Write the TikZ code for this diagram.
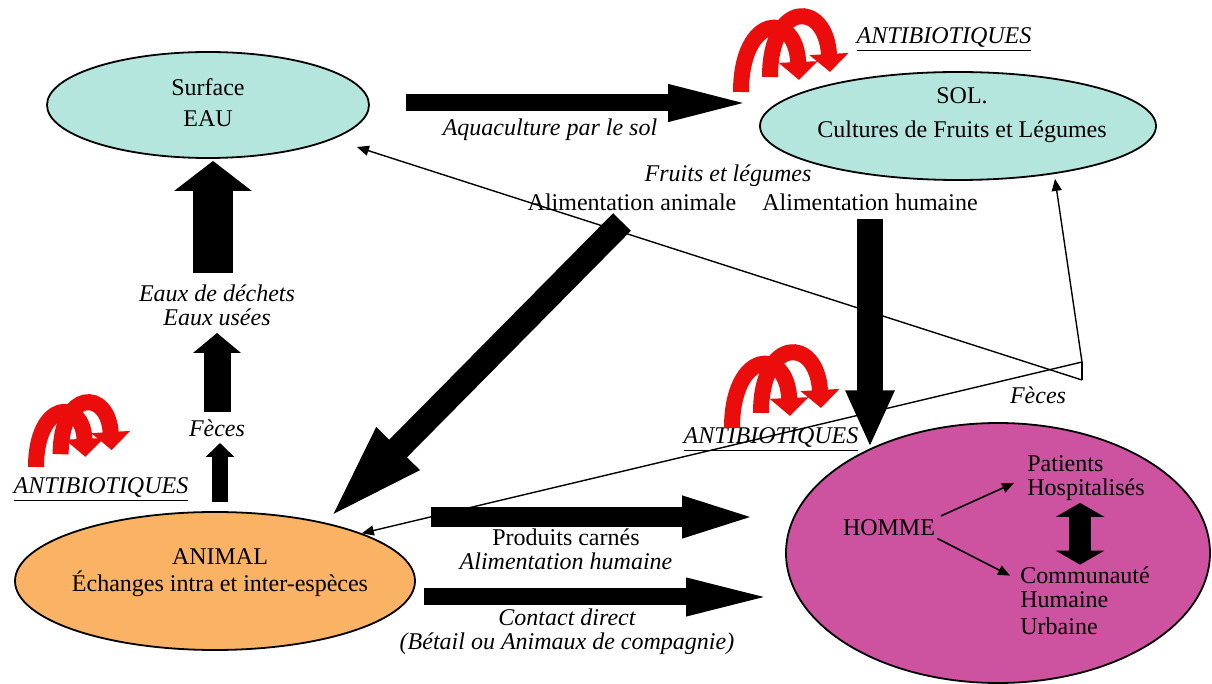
\documentclass[tikz,border=0pt]{standalone}
\usepackage{fontspec}
\setmainfont{Liberation Serif}
\usetikzlibrary{shapes.geometric, arrows.meta, positioning, calc}
\definecolor{waterCyan}{RGB}{180,230,222}
\definecolor{animalOrange}{RGB}{250,178,100}
\definecolor{humanMagenta}{RGB}{205,82,160}
\definecolor{abRed}{RGB}{235,12,12}

\begin{document}
\begin{tikzpicture}[
    x=0.5pt, y=-0.5pt,
    font=\fontsize{12}{12}\selectfont,
    zone/.style={ellipse, draw, line width=0.9pt, inner sep=0pt},
    lbl/.style={align=center, inner sep=1pt},
    itl/.style={lbl, font=\fontsize{12}{12}\selectfont\itshape},
    block/.style n args={3}{line width=#1, -{Triangle[length=#2, width=#3]}},
    link/.style={line width=0.8pt, -{Triangle[length=6pt, width=5pt]}},
    feceslink/.style={line width=0.7pt},
    redarc/.style={abRed, line width=8pt, -{Triangle[length=9pt, width=19pt]}},
    antibio/.pic={
        \draw[redarc] (29,-15) .. controls (29,-92) and (85,-92) .. (89,-20);
        \draw[redarc] (0,0) .. controls (0,-78) and (55,-82) .. (58,-12);
    }
]
\path[use as bounding box, fill=white] (0,0) rectangle (1212,684);

% Reservoirs
\node[zone, fill=waterCyan, minimum width=161pt, minimum height=53pt] (eau) at (208,105) {};
\node[lbl] (eautxt) at (208,103) {Surface\\[3.5pt]EAU};
\node[zone, fill=waterCyan, minimum width=198pt, minimum height=54pt] (sol) at (958,126) {};
\node[lbl] (soltxt) at (962,115) {SOL.\\[5pt]Cultures de Fruits et Légumes};
\node[zone, fill=animalOrange, minimum width=200pt, minimum height=69pt] (animal) at (215,581) {};
\node[lbl] (animaltxt) at (220,573) {ANIMAL\\[1.5pt]Échanges intra et inter-espèces};
\node[zone, fill=humanMagenta, minimum width=212pt, minimum height=130pt] (homme) at (998,553) {};

% Inside HOMME
\node[lbl] (hm) at (889,528) {HOMME};
\node[lbl, align=left, anchor=west] (patients) at (1025,478) {Patients\\Hospitalisés};
\node[lbl, align=left, anchor=west] (commu) at (1018,601) {Communauté\\Humaine\\[1.5pt]Urbaine};
\draw[link, shorten >=6pt, shorten <=2pt] (hm.north east) -- (patients.west);
\draw[link] (hm.south east) -- ($(commu.north west)+(-8,11)$);
\draw[line width=11pt, {Triangle[length=7pt, width=24pt]}-{Triangle[length=7pt, width=24pt]}]
    ($(patients.south)+(-6,0)$) -- ($(patients.south |- commu.north)+(-6,0)$);

% Feces links
\coordinate (j1) at (1082,362);
\coordinate (j2) at (1082,380);
\draw[feceslink] (j1) -- (j2);
\draw[feceslink, -{Triangle[length=6pt, width=5pt]}] (j2) -- ($(eau.east)+(-13,42)$);
\draw[feceslink, -{Triangle[length=6pt, width=5pt]}] (j1) -- ($(sol.south)+(97,-2)$);
\draw[feceslink, -{Triangle[length=6pt, width=5pt]}] (j1) -- (animal.18);

% Labels
\node[itl] (aqua) at (550,130) {Aquaculture par le sol};
\node[itl] (fruits) at (728,176) {Fruits et légumes};
\node[lbl] (alanim) at (632,202) {Alimentation animale};
\node[lbl] (alhum) at (870,202) {Alimentation humaine};
\node[itl] (dechets) at (217,305) {Eaux de déchets\\Eaux usées};
\node[itl] (feces) at (217,428) {Fèces};
\node[lbl] (produits) at (566,549) {Produits carnés\\\textit{Alimentation humaine}};
\node[itl] (contact) at (567,632) {Contact direct\\(Bétail ou Animaux de compagnie)};
\node[itl] (fecesh) at (1038,395) {Fèces};

\node[itl] (abSol) at (944,40) {\underline{ANTIBIOTIQUES}};
\node[itl] (abHomme) at (771,440) {\underline{ANTIBIOTIQUES}};
\node[itl] (abAnimal) at (101,490) {\underline{ANTIBIOTIQUES}};

% Main flows
\draw[block={8.5pt}{44pt}{16pt}] ($(eau.east)+(36,-2)$) -- ($(sol.west)+(-3,-23)$);
\draw[block={20pt}{15pt}{38pt}] ($(dechets)+(-4,-32)$) -- ($(eau.south)+(5,2)$);
\draw[block={13.5pt}{10pt}{23.5pt}] ($(feces)+(0,-16)$) -- ($(dechets)+(0,28)$);
\draw[block={8pt}{7pt}{14pt}] ($(animal.north)+(5,-9)$) -- ($(feces)+(3,15)$);
\draw[block={12.5pt}{52pt}{26pt}] ($(alanim)+(-10,20)$) -- (animal.28);
\draw[block={13pt}{28.5pt}{22.5pt}] ([yshift=-3pt]alhum.south) -- (alhum.south |- homme.140);
\draw[block={10pt}{42pt}{17.5pt}] ($(animal.east)+(15,-64)$) -- ($(homme.west)+(-19,-36)$);
\draw[block={8.5pt}{45pt}{16.5pt}] ($(animal.east)+(8,16)$) -- ($(homme.west)+(-9,44)$);

% Antibiotic pressure
\pic at (741,92) {antibio};
\pic at (732,428) {antibio};
\pic[scale=0.85] at (36,467) {antibio};

\end{tikzpicture}
\end{document}
